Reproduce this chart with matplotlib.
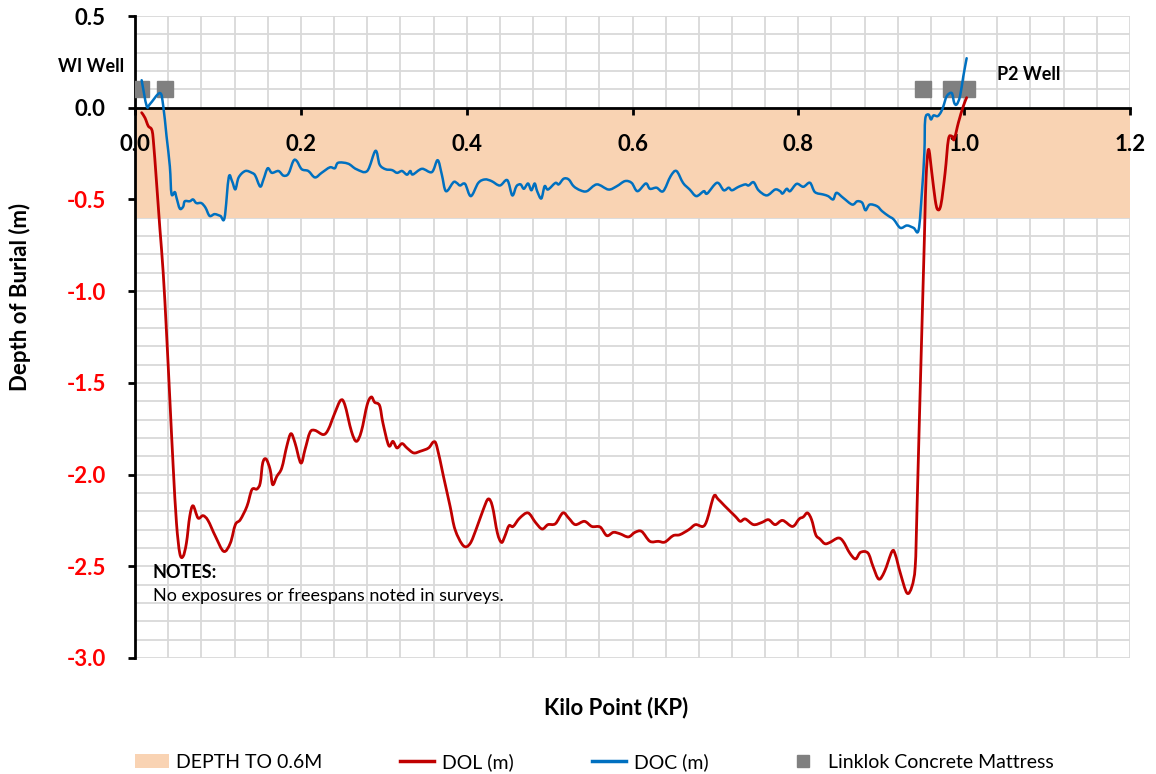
import numpy as np
import matplotlib.pyplot as plt
from matplotlib.patches import Patch, PathPatch
from matplotlib.lines import Line2D
from matplotlib.path import Path

plt.rcParams['font.family'] = ['Lato', 'DejaVu Sans']

# DOC (m) - depth of cover, blue
doc_kp = [0.008, 0.014, 0.018, 0.030, 0.034, 0.038, 0.042, 0.044, 0.048, 0.050,
          0.054, 0.058, 0.060, 0.066, 0.070, 0.074, 0.080, 0.085, 0.090, 0.096,
          0.103, 0.108, 0.113, 0.117, 0.121, 0.125, 0.133, 0.141, 0.145, 0.151,
          0.155, 0.160, 0.165, 0.173, 0.179, 0.185, 0.191, 0.195, 0.201, 0.209,
          0.217, 0.225, 0.235, 0.241, 0.245, 0.257, 0.267, 0.280, 0.290, 0.295,
          0.302, 0.310, 0.316, 0.322, 0.328, 0.332, 0.335, 0.346, 0.358, 0.365,
          0.370, 0.375, 0.384, 0.388, 0.392, 0.398, 0.405, 0.414, 0.422, 0.430,
          0.440, 0.449, 0.455, 0.460, 0.465, 0.469, 0.474, 0.478, 0.482, 0.485,
          0.490, 0.494, 0.498, 0.507, 0.511, 0.517, 0.523, 0.529, 0.537, 0.545,
          0.557, 0.571, 0.581, 0.591, 0.599, 0.606, 0.616, 0.621, 0.629, 0.637,
          0.646, 0.653, 0.661, 0.669, 0.677, 0.686, 0.690, 0.702, 0.710, 0.716,
          0.720, 0.728, 0.736, 0.740, 0.746, 0.752, 0.762, 0.772, 0.778, 0.781,
          0.786, 0.790, 0.798, 0.806, 0.814, 0.820, 0.830, 0.836, 0.842, 0.846,
          0.854, 0.865, 0.871, 0.877, 0.881, 0.886, 0.895, 0.901, 0.909, 0.915,
          0.923, 0.931, 0.939, 0.945, 0.949, 0.952, 0.953, 0.957, 0.960, 0.963,
          0.968, 0.972, 0.975, 0.979, 0.985, 0.988, 0.991, 0.995, 0.999, 1.003]
doc_depth = [0.15, 0.01, 0.02, 0.08, 0.01, -0.155, -0.32, -0.47, -0.46, -0.49,
             -0.55, -0.54, -0.51, -0.51, -0.50, -0.52, -0.52, -0.545, -0.59, -0.58,
             -0.59, -0.60, -0.38, -0.40, -0.445, -0.38, -0.345, -0.355, -0.37, -0.43,
             -0.39, -0.33, -0.355, -0.345, -0.37, -0.36, -0.29, -0.29, -0.335, -0.345,
             -0.38, -0.355, -0.325, -0.33, -0.30, -0.305, -0.335, -0.345, -0.235, -0.31,
             -0.335, -0.34, -0.355, -0.345, -0.365, -0.345, -0.364, -0.333, -0.351, -0.286,
             -0.364, -0.455, -0.406, -0.41, -0.424, -0.415, -0.482, -0.41, -0.391, -0.40,
             -0.424, -0.395, -0.478, -0.428, -0.418, -0.442, -0.413, -0.45, -0.413, -0.455,
             -0.495, -0.428, -0.446, -0.41, -0.418, -0.387, -0.391, -0.428, -0.45, -0.455,
             -0.418, -0.446, -0.428, -0.40, -0.41, -0.455, -0.413, -0.442, -0.436, -0.455,
             -0.373, -0.345, -0.41, -0.446, -0.482, -0.455, -0.468, -0.409, -0.45, -0.436,
             -0.45, -0.431, -0.418, -0.424, -0.406, -0.45, -0.478, -0.446, -0.455, -0.468,
             -0.442, -0.455, -0.415, -0.431, -0.409, -0.46, -0.473, -0.482, -0.50, -0.464,
             -0.491, -0.528, -0.51, -0.518, -0.559, -0.528, -0.537, -0.564, -0.591, -0.609,
             -0.655, -0.642, -0.655, -0.668, -0.464, -0.245, -0.064, -0.037, -0.064, -0.042,
             -0.046, -0.024, 0.009, 0.063, 0.08, 0.027, 0.018, 0.063, 0.172, 0.27]

# DOL (m) - depth of lowering, red
dol_kp = [0.008, 0.012, 0.016, 0.020, 0.022, 0.026, 0.030, 0.034, 0.038, 0.042,
          0.046, 0.050, 0.054, 0.058, 0.062, 0.066, 0.070, 0.076, 0.082, 0.088,
          0.097, 0.107, 0.115, 0.121, 0.127, 0.135, 0.141, 0.147, 0.151, 0.154,
          0.158, 0.163, 0.166, 0.171, 0.177, 0.183, 0.188, 0.193, 0.200, 0.205,
          0.211, 0.217, 0.227, 0.233, 0.241, 0.248, 0.253, 0.261, 0.267, 0.273,
          0.280, 0.285, 0.289, 0.295, 0.299, 0.306, 0.311, 0.316, 0.322, 0.328,
          0.336, 0.344, 0.354, 0.360, 0.364, 0.372, 0.380, 0.386, 0.396, 0.404,
          0.412, 0.420, 0.426, 0.431, 0.437, 0.442, 0.446, 0.451, 0.456, 0.464,
          0.474, 0.483, 0.491, 0.498, 0.507, 0.516, 0.523, 0.531, 0.542, 0.551,
          0.561, 0.569, 0.577, 0.585, 0.595, 0.603, 0.611, 0.621, 0.631, 0.639,
          0.649, 0.657, 0.668, 0.676, 0.685, 0.690, 0.698, 0.703, 0.711, 0.724,
          0.730, 0.736, 0.746, 0.756, 0.764, 0.772, 0.781, 0.793, 0.801, 0.806,
          0.811, 0.816, 0.821, 0.826, 0.832, 0.838, 0.848, 0.854, 0.862, 0.869,
          0.875, 0.884, 0.890, 0.897, 0.904, 0.913, 0.917, 0.923, 0.931, 0.937,
          0.941, 0.943, 0.946, 0.952, 0.954, 0.957, 0.961, 0.965,
          0.968, 0.972, 0.977, 0.981, 0.985, 0.988, 0.993, 0.999, 1.003]
dol_depth = [-0.027, -0.055, -0.10, -0.118, -0.173, -0.41, -0.66, -0.90, -1.227, -1.59,
             -1.955, -2.264, -2.43, -2.446, -2.373, -2.228, -2.17, -2.237, -2.224, -2.25,
             -2.337, -2.419, -2.373, -2.273, -2.246, -2.173, -2.082, -2.079, -2.046, -1.937,
             -1.915, -1.973, -2.055, -2.01, -1.964, -1.846, -1.777, -1.828, -1.937, -1.864,
             -1.77, -1.759, -1.782, -1.755, -1.664, -1.595, -1.619, -1.764, -1.819, -1.764,
             -1.619, -1.577, -1.606, -1.624, -1.719, -1.842, -1.819, -1.855, -1.831, -1.855,
             -1.882, -1.873, -1.855, -1.822, -1.846, -2.01, -2.173, -2.30, -2.388, -2.377,
             -2.291, -2.191, -2.133, -2.173, -2.318, -2.37, -2.337, -2.279, -2.283, -2.237,
             -2.209, -2.261, -2.297, -2.273, -2.268, -2.209, -2.237, -2.273, -2.255, -2.283,
             -2.286, -2.333, -2.315, -2.323, -2.34, -2.315, -2.31, -2.364, -2.364, -2.368,
             -2.333, -2.328, -2.30, -2.273, -2.283, -2.246, -2.119, -2.133, -2.17, -2.228,
             -2.255, -2.242, -2.273, -2.261, -2.246, -2.273, -2.25, -2.283, -2.242, -2.231,
             -2.209, -2.246, -2.328, -2.351, -2.377, -2.37, -2.346, -2.364, -2.428, -2.46,
             -2.424, -2.428, -2.50, -2.57, -2.528, -2.419, -2.437, -2.537, -2.646, -2.61,
             -2.50, -2.21, -1.70, -0.718, -0.39, -0.227, -0.355, -0.50,
             -0.555, -0.528, -0.355, -0.173, -0.155, -0.173, -0.082, 0.009, 0.055]

# Linklok concrete mattresses
mattress_kp = [0.007, 0.036, 0.950, 0.984, 1.004]
mattress_depth = [0.1, 0.1, 0.1, 0.1, 0.1]

# target band
band_kp = [0.0, 1.2]
band_top = [0.0, 0.0]
band_bottom = [-0.6, -0.6]

peach = '#F9D3B3'
red = '#C00000'
blue = '#0070C0'
grey = '#808080'
gridc = '#D9D9D9'


def smooth_path(x, y):
    # Catmull-Rom style bezier through the points, like Excel's smoothed line
    pts = np.column_stack([x, y])
    n = len(pts)
    verts = [pts[0]]
    codes = [Path.MOVETO]
    for i in range(n - 1):
        p0 = pts[max(i - 1, 0)]
        p1 = pts[i]
        p2 = pts[i + 1]
        p3 = pts[min(i + 2, n - 1)]
        verts += [p1 + (p2 - p0) / 6, p2 - (p3 - p1) / 6, p2]
        codes += [Path.CURVE4] * 3
    return Path(verts, codes)


fig = plt.figure(figsize=(11.56, 7.74), dpi=100)
ax = fig.add_axes([0.1168, 0.1499, 0.8607, 0.8294])

ax.set_xlim(0, 1.2)
ax.set_ylim(-3.0, 0.5)

# grid drawn by hand so it can sit under the shaded band while tick labels stay on top
grid_x = np.arange(0, 1.201, 0.04)
grid_y = np.arange(-3.0, 0.51, 0.1)
ax.vlines(grid_x, -3.0, 0.5, color=gridc, lw=1.3, zorder=0)
ax.hlines(grid_y, 0, 1.2, color=gridc, lw=1.3, zorder=0)

ax.fill_between(band_kp, band_bottom, band_top, color=peach, lw=0, zorder=1)
ax.plot(mattress_kp, mattress_depth, 's', color=grey, ms=11, zorder=3)
ax.add_patch(PathPatch(smooth_path(dol_kp, dol_depth), fc='none', ec=red, lw=2.0,
                       zorder=4, capstyle='round', joinstyle='round'))
ax.add_patch(PathPatch(smooth_path(doc_kp, doc_depth), fc='none', ec=blue, lw=1.8,
                       zorder=5, capstyle='round', joinstyle='round'))

ax.set_xticks(np.arange(0, 1.21, 0.2))
ax.set_yticks(np.arange(-3.0, 0.51, 0.5))
ax.set_axisbelow(False)

for s in ['top', 'right']:
    ax.spines[s].set_visible(False)
ax.spines['bottom'].set_position(('data', 0))
ax.spines['bottom'].set_linewidth(2)
ax.spines['left'].set_linewidth(2)

ax.tick_params(axis='x', which='major', length=5, width=2, pad=14, labelsize=16)
ax.tick_params(axis='y', which='major', length=5, width=2, pad=16, labelsize=16)
ax.set_xticklabels(['0.0', '0.2', '0.4', '0.6', '0.8', '1.0', '1.2'], fontweight='bold')
ylabels = ['-3.0', '-2.5', '-2.0', '-1.5', '-1.0', '-0.5', '0.0', '0.5']
ax.set_yticklabels(ylabels, fontweight='bold')
for lab, txt in zip(ax.get_yticklabels(), ylabels):
    lab.set_color('red' if txt.startswith('-') else 'black')

fig.text(20 / 1156, 1 - 297 / 774, 'Depth of Burial (m)', rotation=90, fontsize=16,
         fontweight='bold', ha='center', va='center')
fig.text(616 / 1156, 1 - 708 / 774, 'Kilo Point (KP)', fontsize=16,
         fontweight='bold', ha='center', va='center')

fig.text(58 / 1156, 1 - 66 / 774, 'WI Well', fontsize=13, fontweight='bold', va='center')
fig.text(997 / 1156, 1 - 75 / 774, 'P2 Well', fontsize=13, fontweight='bold', va='center')
fig.text(153 / 1156, 1 - 572 / 774, 'NOTES:', fontsize=13, fontweight='bold', va='center')
fig.text(153 / 1156, 1 - 596 / 774, 'No exposures or freespans noted in surveys.',
         fontsize=13, va='center')

handles = [Patch(facecolor=peach, edgecolor='none'),
           Line2D([], [], color=red, lw=2.5),
           Line2D([], [], color=blue, lw=2.5),
           Line2D([], [], marker='s', color=grey, ls='none', ms=9)]
labels = ['DEPTH TO 0.6M', 'DOL (m)', 'DOC (m)', 'Linklok Concrete Mattress']
fig.legend(handles, labels, loc='center', bbox_to_anchor=(594 / 1156, 1 - 762 / 774),
           ncol=4, frameon=False, fontsize=14, columnspacing=4.0, handlelength=1.75,
           handletextpad=0.4)

fig.savefig('out.png', dpi=100)
